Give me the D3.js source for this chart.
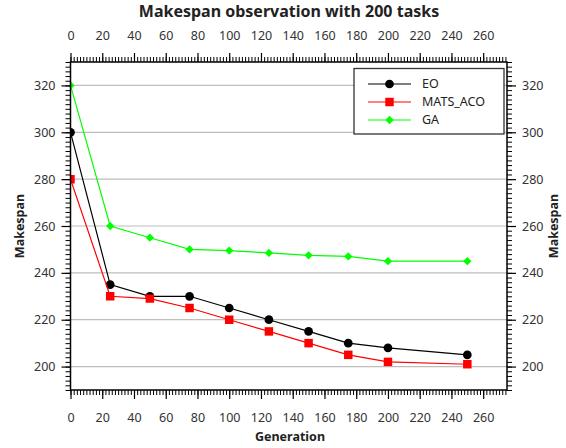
<!DOCTYPE html>
<html>
<head>
<meta charset="utf-8">
<script src="https://cdn.jsdelivr.net/npm/d3@7"></script>
<style>
  body { margin: 0; background: #fff; }
  svg { display: block; font-family: "Noto Sans", "Open Sans", sans-serif; }
</style>
</head>
<body>
<svg id="chart" width="566" height="448"></svg>
<script>
// Generations at which makespan was sampled
const generations = [0, 25, 50, 75, 100, 125, 150, 175, 200, 250];
// Makespan per algorithm
const eoValues = [300, 235, 230, 230, 225, 220, 215, 210, 208, 205];
const matsAcoValues = [280, 230, 229, 225, 220, 215, 210, 205, 202, 201];
const gaValues = [320, 260, 255, 250, 249.5, 248.5, 247.5, 247, 245, 245];
const xTicks = [0, 20, 40, 60, 80, 100, 120, 140, 160, 180, 200, 220, 240, 260];
const yTicks = [200, 220, 240, 260, 280, 300, 320];

const series = [
  { name: "EO", values: eoValues, color: "#000000", marker: "circle" },
  { name: "MATS_ACO", values: matsAcoValues, color: "#ff0000", marker: "square" },
  { name: "GA", values: gaValues, color: "#00ff00", marker: "diamond" }
];

const svg = d3.select("#chart");
const m = { left: 70.5, right: 507, top: 62, bottom: 390 };

const x = d3.scaleLinear().domain([0, 275]).range([m.left, m.right]);
const y = d3.scaleLinear().domain([190, 330]).range([m.bottom, m.top]);

const minorX = d3.range(0, 276, 2);
const minorY = d3.range(190, 331, 2);

svg.append("defs").append("clipPath").attr("id", "plot-clip")
  .append("rect").attr("x", m.left).attr("y", m.top)
  .attr("width", m.right - m.left).attr("height", m.bottom - m.top);

// horizontal grid
svg.append("g").selectAll("line").data(yTicks).join("line")
  .attr("x1", m.left).attr("x2", m.right)
  .attr("y1", d => y(d)).attr("y2", d => y(d))
  .attr("stroke", "#bdbdbd").attr("stroke-width", 1.2);

function styleAxis(g, fontSize) {
  g.select(".domain").remove();
  g.selectAll(".tick line").attr("stroke", "#000").attr("stroke-width", 1.2);
  g.selectAll(".tick text").attr("fill", "#333").style("font-size", fontSize + "px")
    .style("font-family", '"Noto Sans", "Open Sans", sans-serif');
}

// minor ticks
const minorStyle = g => { g.select(".domain").remove(); g.selectAll(".tick line").attr("stroke", "#000").attr("stroke-width", 1); g.selectAll("text").remove(); };
svg.append("g").attr("transform", `translate(0,${m.bottom})`)
  .call(d3.axisBottom(x).tickValues(minorX).tickSize(5)).call(minorStyle);
svg.append("g").attr("transform", `translate(0,${m.top})`)
  .call(d3.axisTop(x).tickValues(minorX).tickSize(5)).call(minorStyle);
svg.append("g").attr("transform", `translate(${m.left},0)`)
  .call(d3.axisLeft(y).tickValues(minorY).tickSize(5)).call(minorStyle);
svg.append("g").attr("transform", `translate(${m.right},0)`)
  .call(d3.axisRight(y).tickValues(minorY).tickSize(5)).call(minorStyle);

// major ticks with labels
svg.append("g").attr("transform", `translate(0,${m.bottom})`)
  .call(d3.axisBottom(x).tickValues(xTicks).tickSize(9).tickPadding(14).tickFormat(d3.format("d")))
  .call(g => styleAxis(g, 12.5));
svg.append("g").attr("transform", `translate(0,${m.top})`)
  .call(d3.axisTop(x).tickValues(xTicks).tickSize(9).tickPadding(13).tickFormat(d3.format("d")))
  .call(g => styleAxis(g, 12.5));
svg.append("g").attr("transform", `translate(${m.left},0)`)
  .call(d3.axisLeft(y).tickValues(yTicks).tickSize(9).tickPadding(6).tickFormat(d3.format("d")))
  .call(g => styleAxis(g, 12.5));
svg.append("g").attr("transform", `translate(${m.right},0)`)
  .call(d3.axisRight(y).tickValues(yTicks).tickSize(9).tickPadding(6).tickFormat(d3.format("d")))
  .call(g => styleAxis(g, 12.5));

// lines and markers, clipped to the plot area
const line = d3.line().x((d, i) => x(generations[i])).y(d => y(d));
const symbolFor = { circle: d3.symbolCircle, square: d3.symbolSquare, diamond: d3.symbolDiamond2 };
const sizeFor = { circle: 60, square: 72, diamond: 44 };

const plot = svg.append("g").attr("clip-path", "url(#plot-clip)");
series.forEach(s => {
  plot.append("path").datum(s.values)
    .attr("d", line).attr("fill", "none")
    .attr("stroke", s.color).attr("stroke-width", 1.2);
  plot.append("g").selectAll("path").data(s.values).join("path")
    .attr("transform", (d, i) => `translate(${x(generations[i])},${y(d)})`)
    .attr("d", d3.symbol().type(symbolFor[s.marker]).size(sizeFor[s.marker]))
    .attr("fill", s.color);
});

// frame
svg.append("rect")
  .attr("x", m.left).attr("y", m.top)
  .attr("width", m.right - m.left).attr("height", m.bottom - m.top)
  .attr("fill", "none").attr("stroke", "#000").attr("stroke-width", 1.5);

// legend
const lg = svg.append("g");
lg.append("rect").attr("x", 354).attr("y", 68.5).attr("width", 150).attr("height", 65.5)
  .attr("fill", "#fff").attr("stroke", "#333").attr("stroke-width", 1.3);
series.forEach((s, i) => {
  const ly = 84 + i * 18;
  lg.append("line").attr("x1", 368).attr("x2", 411).attr("y1", ly).attr("y2", ly)
    .attr("stroke", s.color).attr("stroke-width", 1.2);
  lg.append("path").attr("transform", `translate(389.5,${ly})`)
    .attr("d", d3.symbol().type(symbolFor[s.marker]).size(sizeFor[s.marker]))
    .attr("fill", s.color);
  lg.append("text").attr("x", 422).attr("y", ly).attr("dy", "0.35em")
    .attr("fill", "#222").style("font-size", "12.5px").text(s.name);
});

// titles
svg.append("text").attr("x", 289).attr("y", 17).attr("text-anchor", "middle")
  .style("font-size", "16px").style("font-weight", "bold").attr("fill", "#222")
  .text("Makespan observation with 200 tasks");
svg.append("text").attr("x", 290).attr("y", 441).attr("text-anchor", "middle")
  .style("font-size", "12.5px").style("font-weight", "bold").attr("fill", "#222")
  .text("Generation");
svg.append("text").attr("transform", "translate(24,226) rotate(-90)").attr("text-anchor", "middle")
  .style("font-size", "12.5px").style("font-weight", "bold").attr("fill", "#222")
  .text("Makespan");
svg.append("text").attr("transform", "translate(558,226) rotate(-90)").attr("text-anchor", "middle")
  .style("font-size", "12.5px").style("font-weight", "bold").attr("fill", "#222")
  .text("Makespan");
</script>
</body>
</html>
